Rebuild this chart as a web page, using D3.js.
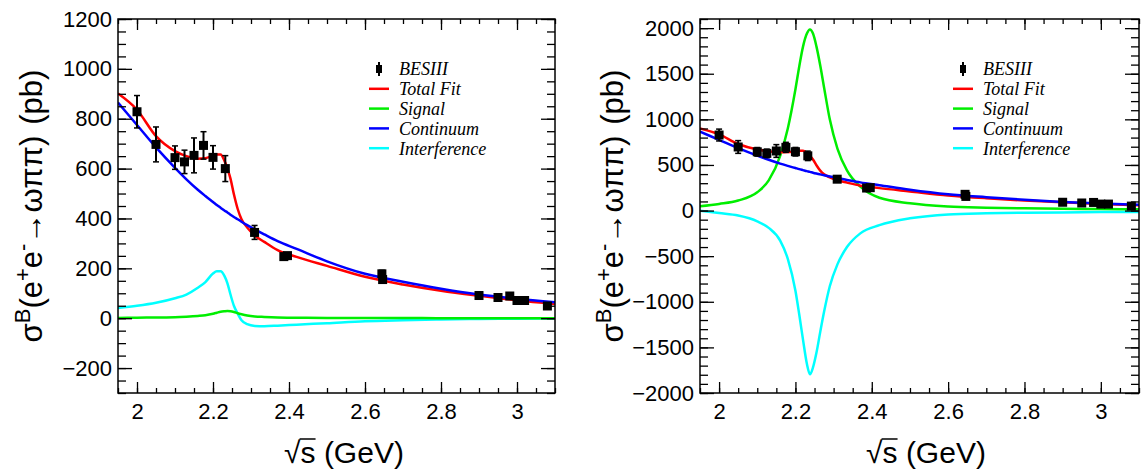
<!DOCTYPE html>
<html>
<head>
<meta charset="utf-8">
<script src="https://cdn.jsdelivr.net/npm/d3@7"></script>
<style>
  body { margin: 0; background: #fff; }
  text { font-family: 'Liberation Sans', Arial, Helvetica, sans-serif; fill: #000; }
</style>
</head>
<body>
<svg id="canvas" width="1147" height="474"></svg>
<script>
// BESIII points
let energies = [2.0, 2.05, 2.1, 2.125, 2.15, 2.175, 2.2, 2.2324, 2.3094, 2.3864, 2.396, 2.6444, 2.6464, 2.9, 2.95, 2.981, 3.0, 3.02, 3.08]
let xsec = [828, 697, 644, 627, 653, 693, 645, 600, 344, 247, 251, 178, 155, 91, 83, 89, 71, 71, 49]
let xsecErr = [65, 70, 47, 47, 70, 55, 47, 52, 28, 10, 10, 14, 14, 10, 10, 10, 10, 10, 10]

let fitGrid = [1.95, 2.0, 2.05, 2.1, 2.13, 2.16, 2.18, 2.2, 2.21, 2.22, 2.23, 2.238, 2.246, 2.255, 2.265, 2.275, 2.29, 2.31, 2.335, 2.37, 2.42, 2.5, 2.6, 2.7, 2.8, 2.9, 3.0, 3.1]
let totalFit = [901, 836, 730, 670, 650, 640, 642, 652, 657, 657, 632, 600, 560, 497, 438, 397, 364, 332, 306, 273, 246, 210, 166, 135, 110, 90, 72, 57]
let continuum = [865, 775, 685, 603, 557, 515, 490, 466, 454, 443, 432, 424, 415, 406, 397, 387, 373, 356, 336, 309, 278, 228, 178, 146, 118, 95, 78, 64]
// solution I (left)
let signal1 = [1, 2, 3, 4, 6, 9, 12, 18, 22, 26, 28, 29, 28, 25, 20, 16, 11, 7, 5, 3, 2, 1, 1, 1, 0, 0, 0, 0]
let interf1 = [41, 50, 62, 80, 95, 122, 145, 179, 188, 188, 170, 140, 95, 50, 18, -8, -24, -31, -32, -30, -26, -20, -12, -8, -5, -3, -2, -1]
// solution II (right)
let signal2 = [48, 73, 110, 200, 330, 600, 900, 1330, 1580, 1800, 1940, 1985, 1940, 1800, 1590, 1350, 1000, 680, 440, 262, 140, 80, 45, 32, 24, 19, 16, 14]
let interf2 = [-2, -28, -55, -118, -190, -330, -530, -880, -1140, -1420, -1680, -1795, -1720, -1560, -1330, -1110, -830, -590, -400, -250, -160, -85, -42, -30, -24, -20, -17, -15]

let legendLabels = ['BESIII', 'Total Fit', 'Signal', 'Continuum', 'Interference']
let xTicks = [2, 2.2, 2.4, 2.6, 2.8, 3]
let yTicks1 = [-200, 0, 200, 400, 600, 800, 1000, 1200]
let yTicks2 = [-2000, -1500, -1000, -500, 0, 500, 1000, 1500, 2000]

let colors = { total: '#ff0000', signal: '#00ee00', continuum: '#0000ff', interf: '#00ffff' }

let svg = d3.select('#canvas')

let drawPanel = (p) => {
  let x = d3.scaleLinear().domain([1.95, 3.1]).range([p.x0, p.x1])
  let y = d3.scaleLinear().domain(p.yDomain).range([p.y1, p.y0])
  let g = svg.append('g')

  g.append('clipPath').attr('id', p.id)
    .append('rect').attr('x', p.x0).attr('y', p.y0)
    .attr('width', p.x1 - p.x0).attr('height', p.y1 - p.y0)

  let plot = g.append('g').attr('clip-path', 'url(#' + p.id + ')')
  let line = d3.line()
    .x((d, i) => x(fitGrid[i]))
    .y((d) => y(d))
    .curve(d3.curveMonotoneX)

  let curves = [[p.interf, colors.interf], [p.signal, colors.signal], [totalFit, colors.total], [continuum, colors.continuum]]
  curves.forEach((c) => {
    plot.append('path').attr('d', line(c[0]))
      .attr('fill', 'none').attr('stroke', c[1]).attr('stroke-width', 2.5)
  })

  // data with error bars
  let pts = plot.selectAll('g.pt').data(energies).enter().append('g').attr('class', 'pt')
  pts.append('line')
    .attr('x1', (d) => x(d)).attr('x2', (d) => x(d))
    .attr('y1', (d, i) => y(xsec[i] + xsecErr[i])).attr('y2', (d, i) => y(xsec[i] - xsecErr[i]))
    .attr('stroke', '#000').attr('stroke-width', 2)
  pts.append('line')
    .attr('x1', (d) => x(d) - 3).attr('x2', (d) => x(d) + 3)
    .attr('y1', (d, i) => y(xsec[i] + xsecErr[i])).attr('y2', (d, i) => y(xsec[i] + xsecErr[i]))
    .attr('stroke', '#000').attr('stroke-width', 1.5)
  pts.append('line')
    .attr('x1', (d) => x(d) - 3).attr('x2', (d) => x(d) + 3)
    .attr('y1', (d, i) => y(xsec[i] - xsecErr[i])).attr('y2', (d, i) => y(xsec[i] - xsecErr[i]))
    .attr('stroke', '#000').attr('stroke-width', 1.5)
  pts.append('rect')
    .attr('x', (d) => x(d) - 4.5).attr('y', (d, i) => y(xsec[i]) - 4.5)
    .attr('width', 9).attr('height', 9).attr('fill', '#000')

  // axes, ticks pointing inwards on all four sides
  let xMinor = d3.range(39, 63).map((k) => k * 0.05)
  let fmt = d3.format('~g')
  let addAxis = (axis, tx, ty) => {
    let a = g.append('g').attr('transform', 'translate(' + tx + ',' + ty + ')').call(axis)
    a.select('.domain').remove()
    a.selectAll('line').attr('stroke', '#000').attr('stroke-width', 1.3)
    a.selectAll('text').style('font-size', '22px').style('font-family', "'Liberation Sans', Arial, sans-serif")
    return a
  }
  addAxis(d3.axisBottom(x).tickValues(xTicks).tickFormat(fmt).tickSize(-11).tickPadding(10), 0, p.y1)
  addAxis(d3.axisBottom(x).tickValues(xMinor).tickFormat('').tickSize(-5), 0, p.y1)
  addAxis(d3.axisTop(x).tickValues(xTicks).tickFormat('').tickSize(-11), 0, p.y0)
  addAxis(d3.axisTop(x).tickValues(xMinor).tickFormat('').tickSize(-5), 0, p.y0)
  addAxis(d3.axisLeft(y).tickValues(p.yTicks).tickFormat(d3.format('d')).tickSize(-14).tickPadding(6), p.x0, 0)
  addAxis(d3.axisLeft(y).tickValues(p.yMinor).tickFormat('').tickSize(-8), p.x0, 0)
  addAxis(d3.axisRight(y).tickValues(p.yTicks).tickFormat('').tickSize(-14), p.x1, 0)
  addAxis(d3.axisRight(y).tickValues(p.yMinor).tickFormat('').tickSize(-8), p.x1, 0)

  g.append('rect').attr('x', p.x0).attr('y', p.y0)
    .attr('width', p.x1 - p.x0).attr('height', p.y1 - p.y0)
    .attr('fill', 'none').attr('stroke', '#000').attr('stroke-width', 1.5)

  // legend
  let legColors = [null, colors.total, colors.signal, colors.continuum, colors.interf]
  legendLabels.forEach((lab, i) => {
    let ly = 69 + i * 19.8
    if (i === 0) {
      g.append('line').attr('x1', p.legX + 10).attr('x2', p.legX + 10)
        .attr('y1', ly - 7).attr('y2', ly + 7).attr('stroke', '#000').attr('stroke-width', 2)
      g.append('rect').attr('x', p.legX + 7).attr('y', ly - 4).attr('width', 6).attr('height', 8).attr('fill', '#000')
    } else {
      g.append('line').attr('x1', p.legX).attr('x2', p.legX + 20)
        .attr('y1', ly).attr('y2', ly).attr('stroke', legColors[i]).attr('stroke-width', 2.5)
    }
    g.append('text').attr('x', p.legX + 30).attr('y', ly).attr('dy', '0.35em')
      .style('font-family', "'Liberation Serif', 'Times New Roman', serif")
      .style('font-style', 'italic').style('font-size', '18px')
      .text(lab)
  })

  // y title
  let t = g.append('text')
    .attr('transform', 'translate(' + p.titleYX + ',206) rotate(-90)')
    .attr('text-anchor', 'middle').style('font-size', '31px')
  t.append('tspan').text('σ')
  t.append('tspan').attr('dy', -12).style('font-size', '22px').text('B')
  t.append('tspan').attr('dy', 12).text('(e')
  t.append('tspan').attr('dy', -12).style('font-size', '22px').text('+')
  t.append('tspan').attr('dy', 12).text('e')
  t.append('tspan').attr('dy', -12).style('font-size', '22px').text('-')
  t.append('tspan').attr('dy', 12).text('→ωππ)')
  t.append('tspan').attr('dx', 11).text('(pb)')

  // x title with radical
  let xt = g.append('text').attr('x', p.titleXX).attr('y', 463)
    .attr('text-anchor', 'middle').style('font-size', '30px')
  xt.append('tspan').text('√')
  xt.append('tspan').text('s (GeV)')
  let ext = xt.node().getExtentOfChar(1)
  let ext0 = xt.node().getExtentOfChar(0)
  g.append('line')
    .attr('x1', ext0.x + ext0.width - 1).attr('x2', ext.x + ext.width)
    .attr('y1', 463 - 24).attr('y2', 463 - 24)
    .attr('stroke', '#000').attr('stroke-width', 1.5)
}

drawPanel({
  id: 'clipA', x0: 118, x1: 555, y0: 19, y1: 393,
  yDomain: [-300, 1200], yTicks: yTicks1, yMinor: d3.range(-6, 25).map((k) => k * 50),
  signal: signal1, interf: interf1, legX: 369, titleYX: 42, titleXX: 344
})
drawPanel({
  id: 'clipB', x0: 700, x1: 1139, y0: 19, y1: 393,
  yDomain: [-2000, 2100], yTicks: yTicks2, yMinor: d3.range(-20, 22).map((k) => k * 100),
  signal: signal2, interf: interf2, legX: 953, titleYX: 623, titleXX: 926
})
</script>
</body>
</html>
